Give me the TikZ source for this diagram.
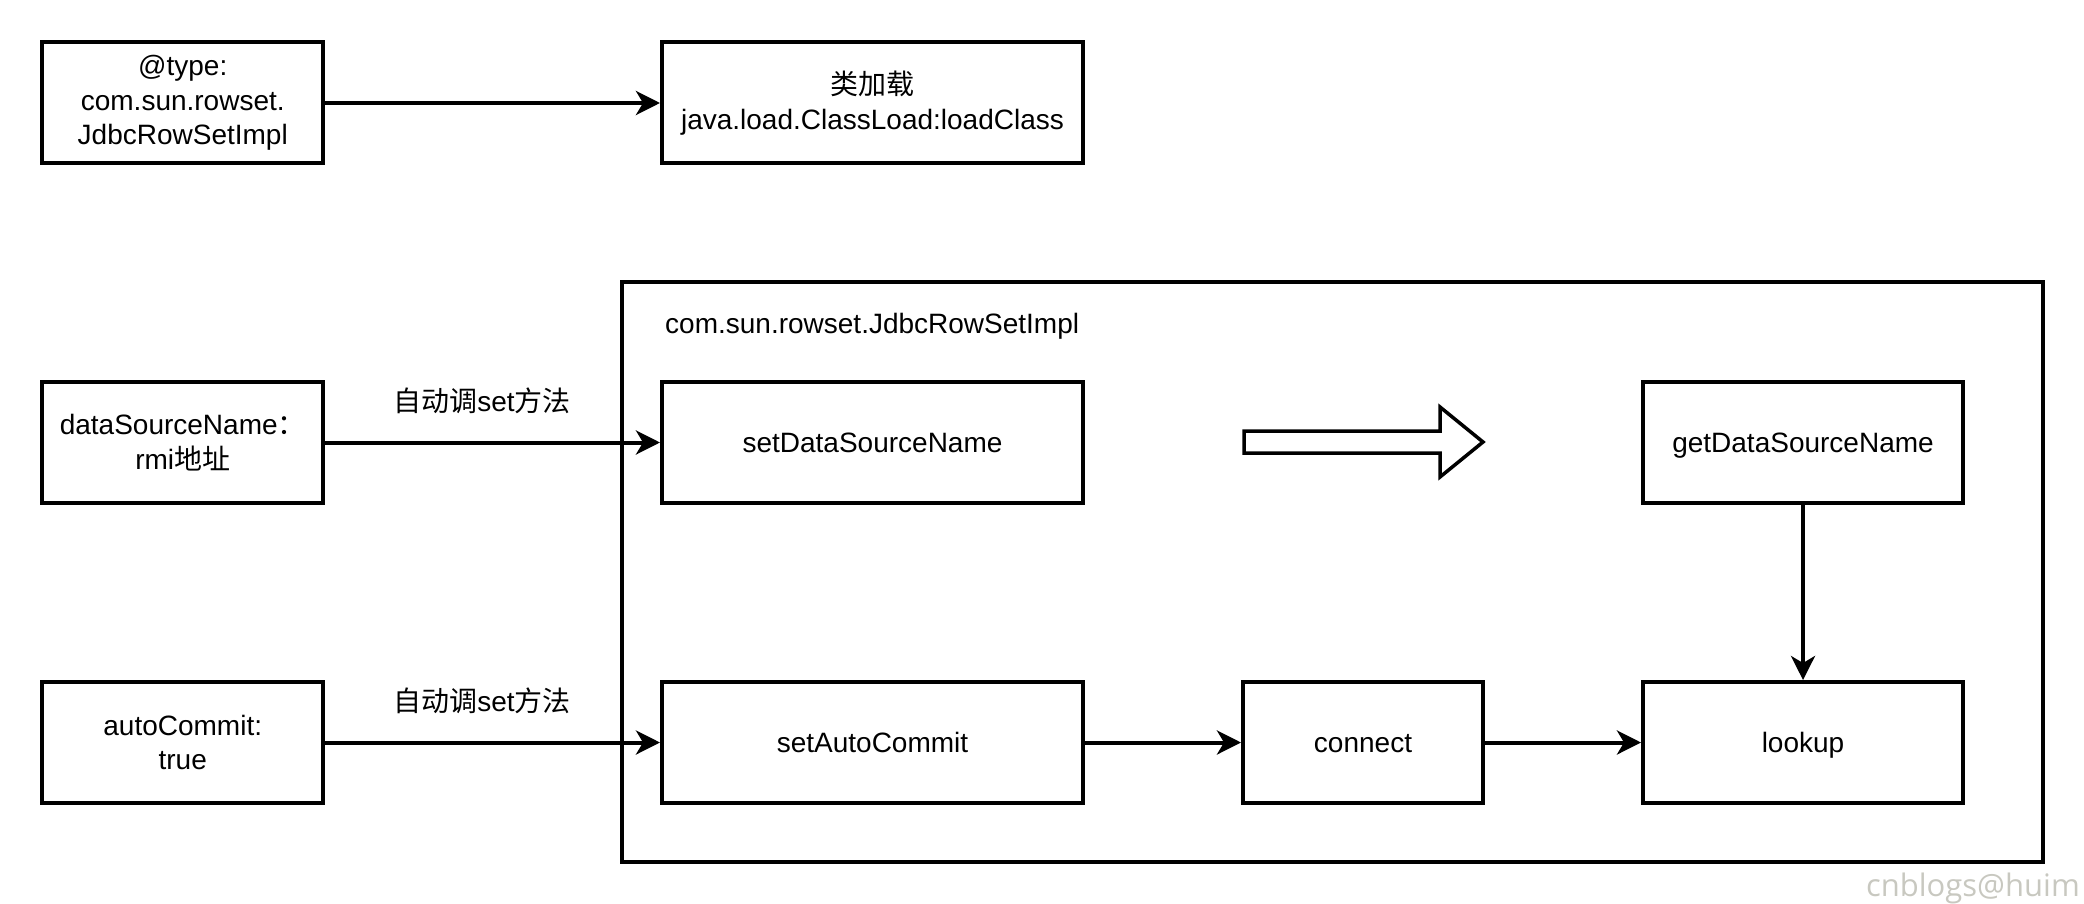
\documentclass[tikz,border=0pt]{standalone}
\usepackage{fontspec}
\setmainfont{Liberation Sans}
\newfontfamily\cjkfont{Noto Sans CJK SC}
\newfontfamily\wmfont{Open Sans}
\usetikzlibrary{arrows.meta,positioning}
\newcommand{\zh}[1]{{\cjkfont #1}}
\definecolor{wmgray}{RGB}{200,200,192}
\tikzset{
  box/.style={draw, line width=4pt, minimum width=#1, minimum height=121pt, inner sep=0pt, align=center,
    font=\fontsize{28}{34.5}\selectfont},
  box/.default=281pt,
  oneline/.style={text height=23pt, text depth=3pt},
  conn/.style={line width=4pt, -{Stealth[length=24pt, width=24pt, inset=7pt]}},
  lbl/.style={font=\fontsize{28}{34}\selectfont, inner sep=0pt},
}
\begin{document}
\begin{tikzpicture}[x=1pt, y=-1pt]
\useasboundingbox (0,0) rectangle (2084,904);
% container
\node[draw, line width=4pt, minimum width=1421pt, minimum height=580pt, inner sep=0pt] (cont) at (1332.5,572) {};
\node[lbl, oneline, anchor=west] (contlbl) at (665,323) {com.sun.rowset.JdbcRowSetImpl};
% top row
\node[box] (type) at (182.75,103) {@type:\\com.sun.rowset.\\JdbcRowSetImpl};
\node[box=421pt] (load) at (872.5,103) {\zh{类加载}\\java.load.ClassLoad:loadClass};
% second row
\node[box] (dsn) at (182.75,442.5) {dataSourceName\zh{：}\\rmi\zh{地址}};
\node[box=421pt, oneline] (setdsn) at (872.5,442.5) {setDataSourceName};
\node[box=320pt, oneline] (getdsn) at (1803,442.5) {getDataSourceName};
% third row
\node[box] (ac) at (182.75,742.5) {autoCommit:\\true};
\node[box=421pt, oneline] (setac) at (872.5,742.5) {setAutoCommit};
\node[box=240pt, oneline] (connect) at (1363,742.5) {connect};
\node[box=320pt, oneline] (lookup) at (1803,742.5) {lookup};
% labels
\node[lbl] (l1) at (482,401) {\zh{自动调}set\zh{方法}};
\node[lbl] (l2) at (482,701) {\zh{自动调}set\zh{方法}};
% connectors
\draw[conn] (type) -- (load);
\draw[conn] (dsn) -- (setdsn);
\draw[conn] (ac) -- (setac);
\draw[conn] (setac) -- (connect);
\draw[conn] (connect) -- (lookup);
\draw[conn] (getdsn) -- (lookup);
% hollow arrow
\coordinate (ha) at (1244,442);
\draw[line width=3.5pt, line join=miter] (ha) ++(0,-11) -- ++(196,0) -- ++(0,-24) -- (1483,442) -- (1440,477) -- ++(0,-24) -- ++(-196,0) -- cycle;
% watermark
\node[font=\wmfont\fontsize{31}{36}\selectfont, text=wmgray, anchor=base east, inner sep=0pt] (wm) at (2080,896) {cnblogs@huim};
\end{tikzpicture}
\end{document}
